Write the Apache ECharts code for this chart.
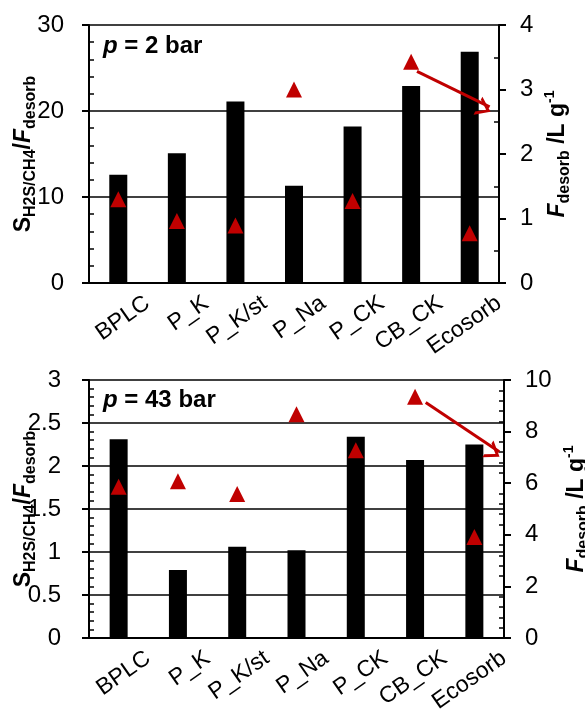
<!DOCTYPE html>
<html>
<head>
<meta charset="utf-8">
<script src="https://cdn.jsdelivr.net/npm/echarts@6/dist/echarts.min.js"></script>
<style>
  html, body { margin: 0; padding: 0; background: #fff; }
  #chart { width: 585px; height: 709px; }
</style>
</head>
<body>
<div id="chart"></div>
<script>
const categories = ['BPLC', 'P_K', 'P_K/st', 'P_Na', 'P_CK', 'CB_CK', 'Ecosorb'];

// p = 2 bar
const ratio2 = [12.6, 15.1, 21.1, 11.3, 18.2, 22.9, 26.9];
const fdes2 = [1.30, 0.96, 0.89, 3.00, 1.27, 3.43, 0.77];
// p = 43 bar
const ratio43 = [2.31, 0.79, 1.06, 1.02, 2.34, 2.07, 2.25];
const fdes43 = [5.86, 6.08, 5.58, 8.67, 7.28, 9.35, 3.91];

// arrows: x in category widths from the left edge, y on the right axis
const arrow2 = [[5.6, 3.28], [6.84, 2.73]];
const arrow43 = [[5.68, 9.13], [6.92, 7.22]];

const FONT = 'Liberation Sans';
const RED = '#c00000';
// open arrow head (tip up, rotated by ECharts along the line)
const VHEAD = 'path://M0,20 L10,0 L20,20 L16.5,20 L10,7 L3.5,20 Z';

const leftName = '{s|S}{sub|H2S/CH4}{b|/}{i|F}{sub|desorb}';
const rightName = '{i|F}{sub|desorb}{b| /L g}{sup|-1}';
const nameRich = {
  s: { fontSize: 23, fontWeight: 'bold', fontFamily: FONT, lineHeight: 30, color: '#000' },
  b: { fontSize: 23, fontWeight: 'bold', fontFamily: FONT, lineHeight: 30, color: '#000' },
  i: { fontSize: 23, fontWeight: 'bold', fontStyle: 'italic', fontFamily: FONT, lineHeight: 30, color: '#000' },
  sub: { fontSize: 16, fontWeight: 'bold', fontFamily: FONT, lineHeight: 16, verticalAlign: 'bottom', color: '#000' },
  sup: { fontSize: 14, fontWeight: 'bold', fontFamily: FONT, lineHeight: 14, verticalAlign: 'top', color: '#000' }
};

const black = { color: '#000', width: 2 };

function yLeft(gi, max, interval, minorSplit, margin) {
  return {
    type: 'value', gridIndex: gi, position: 'left', min: 0, max: max, interval: interval,
    axisLine: { show: true, lineStyle: black },
    axisTick: { show: true, length: 7, lineStyle: black },
    minorTick: { show: true, splitNumber: minorSplit, length: -5, lineStyle: { color: '#000', width: 1.5 } },
    splitLine: { show: true, lineStyle: { color: '#000', width: 1.5 } },
    axisLabel: { fontSize: 24, fontFamily: FONT, color: '#000', margin: margin },
    name: leftName, nameLocation: 'middle', nameRotate: 90, nameGap: 50, nameMoveOverlap: false,
    nameTextStyle: { rich: nameRich }
  };
}

function yRight(gi, max, interval, minorSplit, gap) {
  return {
    type: 'value', gridIndex: gi, position: 'right', min: 0, max: max, interval: interval,
    axisLine: { show: true, lineStyle: black },
    axisTick: { show: true, length: 7, lineStyle: black },
    minorTick: { show: true, splitNumber: minorSplit, length: -5, lineStyle: { color: '#000', width: 1.5 } },
    splitLine: { show: false },
    axisLabel: { fontSize: 24, fontFamily: FONT, color: '#000', margin: 21 },
    name: rightName, nameLocation: 'middle', nameRotate: 90, nameGap: gap, nameMoveOverlap: false,
    nameTextStyle: { rich: nameRich }
  };
}

function xCat(gi) {
  return {
    type: 'category', gridIndex: gi, position: 'bottom', data: categories, boundaryGap: true,
    axisLine: { show: true, lineStyle: black },
    axisTick: { show: false },
    axisLabel: { show: false }
  };
}

// label axis: labels sit on the boundaries between categories
function xLab(gi) {
  return {
    type: 'value', gridIndex: gi, position: 'bottom', min: 0, max: 7, interval: 1,
    axisLine: { show: false, onZero: false }, axisTick: { show: false }, splitLine: { show: false },
    axisLabel: {
      show: true, showMinLabel: true, showMaxLabel: true,
      formatter: v => (v >= 1 ? categories[v - 1] : ''),
      rotate: 35, align: 'right', verticalAlign: 'middle',
      margin: 18, fontSize: 23, fontFamily: FONT, color: '#000'
    }
  };
}

function panelSeries(gi, ratio, fdes, arrow) {
  return [
    {
      type: 'bar', xAxisIndex: gi * 2, yAxisIndex: gi * 2, data: ratio,
      barWidth: 18, itemStyle: { color: '#000' }, z: 2
    },
    {
      type: 'scatter', xAxisIndex: gi * 2, yAxisIndex: gi * 2 + 1, data: fdes,
      symbol: 'triangle', symbolSize: 16, itemStyle: { color: RED, opacity: 1 }, z: 3
    },
    {
      type: 'line', xAxisIndex: gi * 2 + 1, yAxisIndex: gi * 2 + 1, data: [],
      symbol: 'none', z: 4,
      markLine: {
        silent: true, symbol: ['none', VHEAD], symbolSize: [20, 14], symbolOffset: [0, 4],
        label: { show: false },
        lineStyle: { color: RED, width: 3, type: 'solid' },
        data: [[{ coord: arrow[0] }, { coord: arrow[1] }]]
      }
    }
  ];
}

const chart = echarts.init(document.getElementById('chart'), null, { renderer: 'canvas' });

chart.setOption({
  animation: false,
  backgroundColor: '#fff',
  title: [
    {
      text: '{i|p} = 2 bar', left: 103, top: 34, padding: 0,
      textStyle: { fontSize: 24, fontWeight: 'bold', fontFamily: FONT, color: '#000',
        rich: { i: { fontSize: 24, fontWeight: 'bold', fontStyle: 'italic', fontFamily: FONT, color: '#000' } } }
    },
    {
      text: '{i|p} = 43 bar', left: 103, top: 388, padding: 0,
      textStyle: { fontSize: 24, fontWeight: 'bold', fontFamily: FONT, color: '#000',
        rich: { i: { fontSize: 24, fontWeight: 'bold', fontStyle: 'italic', fontFamily: FONT, color: '#000' } } }
    }
  ],
  grid: [
    { left: 89, top: 25, width: 410, height: 258, outerBoundsMode: 'none' },
    { left: 89, top: 380, width: 415, height: 258, outerBoundsMode: 'none' }
  ],
  xAxis: [xCat(0), xLab(0), xCat(1), xLab(1)],
  yAxis: [
    yLeft(0, 30, 10, 5, 25), yRight(0, 4, 1, 2, 44),
    yLeft(1, 3, 0.5, 5, 28), yRight(1, 10, 2, 5, 58)
  ],
  series: [
    ...panelSeries(0, ratio2, fdes2, arrow2),
    ...panelSeries(1, ratio43, fdes43, arrow43)
  ]
});
</script>
</body>
</html>
